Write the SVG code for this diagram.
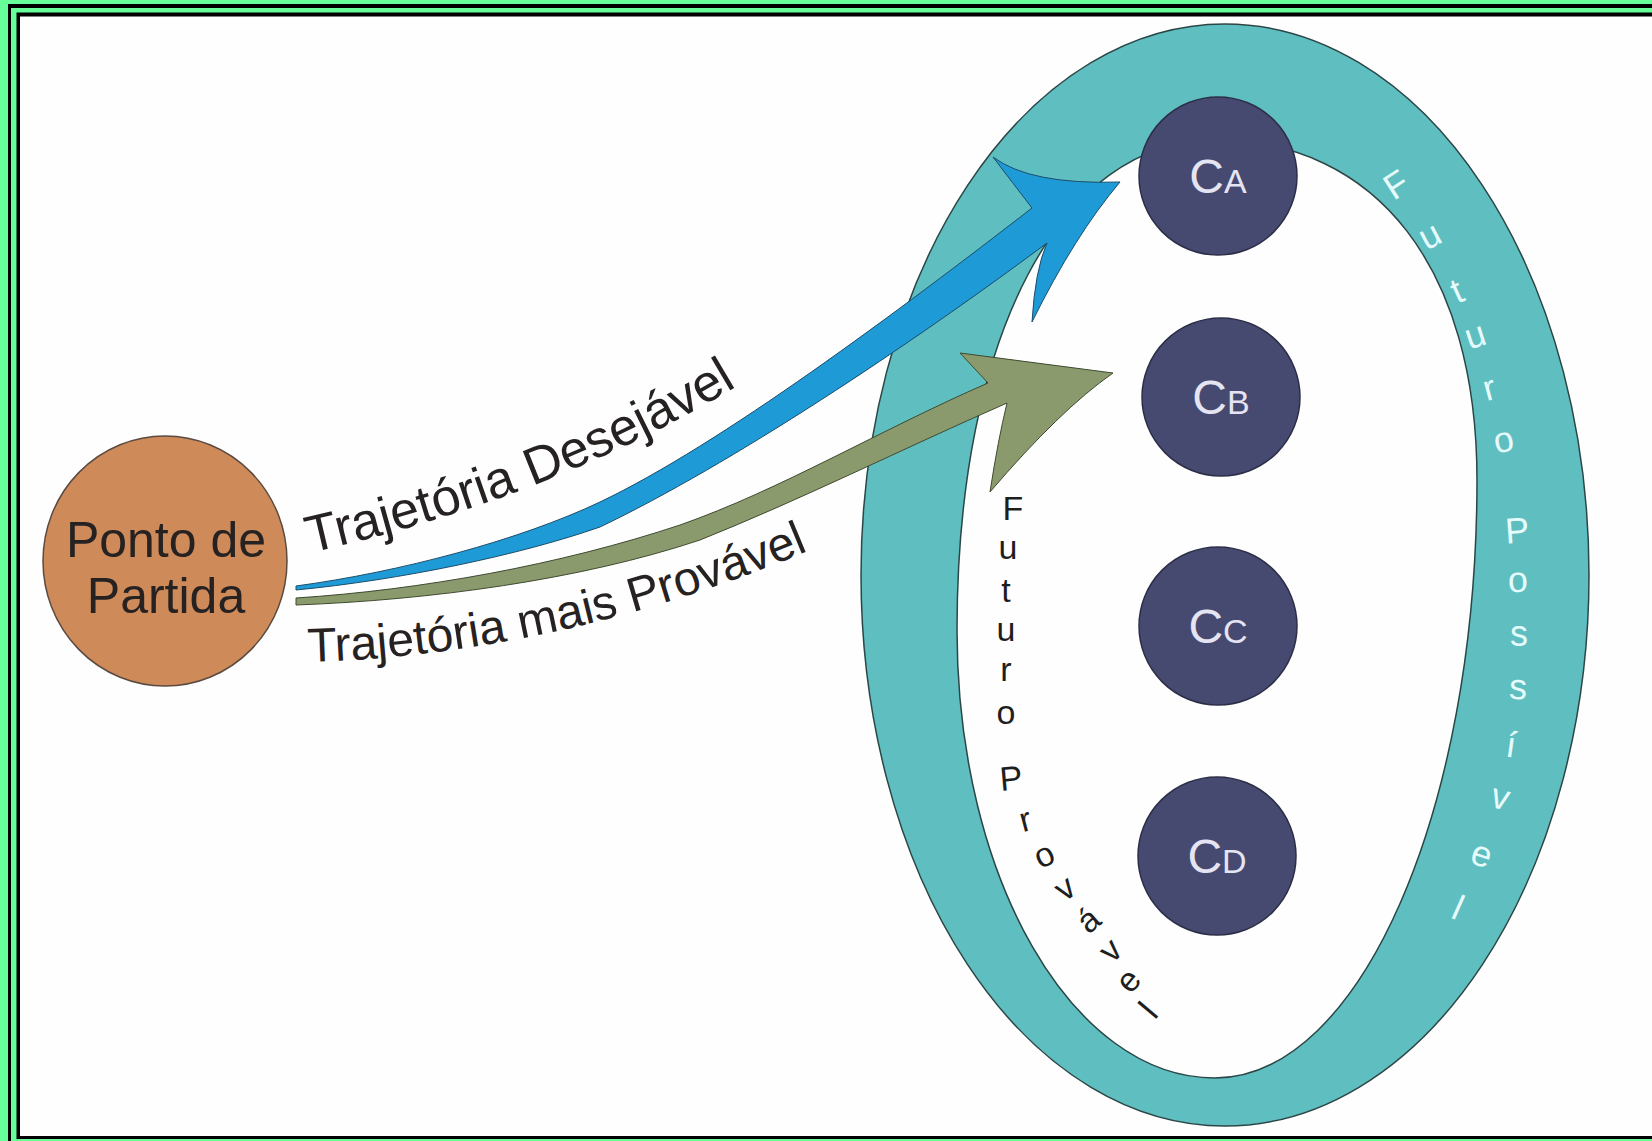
<svg xmlns="http://www.w3.org/2000/svg" width="1652" height="1141" viewBox="0 0 1652 1141">
<style>
.lbl{font-family:"Liberation Sans",Arial,sans-serif;fill:#262222}
.pos{font-family:"Liberation Sans",Arial,sans-serif;font-size:36px;fill:#e6fbfb;text-anchor:middle}
.prov{font-family:"Liberation Sans",Arial,sans-serif;font-size:34px;fill:#1e1e1e;text-anchor:middle}
.node{fill:#474a70;stroke:#2c2e48;stroke-width:1.5}
.nl{font-family:"Liberation Sans",Arial,sans-serif;fill:#e4e4f2;text-anchor:middle}
</style>
<defs>
<path id="p1" d="M 310,553 Q 565,495 760,372"/>
<path id="p2" d="M 308,662 Q 560,655 810,550"/>
</defs>
<!-- frame -->
<rect x="0" y="0" width="1652" height="1141" fill="#66ff99"/>
<rect x="8" y="4" width="1700" height="1200" fill="#000"/>
<rect x="11" y="8" width="1700" height="1200" fill="#66ff99"/>
<rect x="16.5" y="12.5" width="1700" height="1126.5" fill="#000"/>
<rect x="20" y="16.5" width="1700" height="1119.5" fill="#fefefe"/>

<g id="ring">
<path fill-rule="evenodd" fill="#5fbec0" stroke="#2b4646" stroke-width="1.5" d="M 861,575 A 364,551 0 1 0 1589,575 A 364,551 0 1 0 861,575 Z M 1215,140 C 1377,140 1477,269 1477,480 C 1477,810 1360,1078 1215,1078 C 1072,1078 957,877 957,630 C 957,336 1060,140 1215,140 Z"/>
</g>

<g id="connectors">
<path id="arrow-desejavel" fill="#1e9bd7" stroke="#1b4d6a" stroke-width="1" d="M 296,586 C 400,572 520,540 600,502 C 720,445 900,310 1032,208 Q 1012,182 993,157 Q 1030,185 1120,182 Q 1075,235 1032,322 Q 1035,270 1047,243 C 910,345 730,465 600,527 C 520,555 400,580 296,590 Z"/>
<path id="arrow-provavel" fill="#8b9a6c" stroke="#3e4a30" stroke-width="1" d="M 296,598 C 420,590 560,565 680,525 C 780,490 880,430 988,383 L 960,353 L 1113,373 Q 1060,410 990,492 Q 998,440 1007,403 C 900,450 800,500 700,540 C 580,580 430,600 296,605 Z"/>
</g>

<g id="label-desejavel">
<text class="lbl" font-size="52"><textPath href="#p1">Trajetória Desejável</textPath></text>
</g>
<g id="label-provavel">
<text class="lbl" font-size="48"><textPath href="#p2">Trajetória mais Provável</textPath></text>
</g>

<g id="node-partida">
<ellipse cx="165" cy="561" rx="122" ry="125" fill="#cf8a5a" stroke="#5a4a40" stroke-width="1.5"/>
<text class="lbl" font-size="50" x="166" y="557" text-anchor="middle" fill="#2b1d14">Ponto de</text>
<text class="lbl" font-size="50" x="166" y="613" text-anchor="middle" fill="#2b1d14">Partida</text>
</g>

<g id="node-ca">
<circle class="node" cx="1218" cy="176" r="79"/>
<text class="nl" x="1218" y="193"><tspan font-size="48">C</tspan><tspan font-size="34">A</tspan></text>
</g>
<g id="node-cb">
<circle class="node" cx="1221" cy="397" r="79"/>
<text class="nl" x="1221" y="414"><tspan font-size="48">C</tspan><tspan font-size="34">B</tspan></text>
</g>
<g id="node-cc">
<circle class="node" cx="1218" cy="626" r="79"/>
<text class="nl" x="1218" y="643"><tspan font-size="48">C</tspan><tspan font-size="34">C</tspan></text>
</g>
<g id="node-cd">
<circle class="node" cx="1217" cy="856" r="79"/>
<text class="nl" x="1217" y="873"><tspan font-size="48">C</tspan><tspan font-size="34">D</tspan></text>
</g>

<g id="label-futuro-provavel">
<text class="prov" transform="translate(1013,508)" y="12">F</text>
<text class="prov" transform="translate(1008,550)" y="9">u</text>
<text class="prov" transform="translate(1006,590)" y="12">t</text>
<text class="prov" transform="translate(1006,632)" y="9">u</text>
<text class="prov" transform="translate(1006,672)" y="9">r</text>
<text class="prov" transform="translate(1006,715)" y="9">o</text>
<text class="prov" transform="translate(1011,778) rotate(-5)" y="12">P</text>
<text class="prov" transform="translate(1026,822) rotate(-15)" y="9">r</text>
<text class="prov" transform="translate(1045,857) rotate(-25)" y="9">o</text>
<text class="prov" transform="translate(1066,890) rotate(-35)" y="9">v</text>
<text class="prov" transform="translate(1090,922) rotate(-40)" y="9">á</text>
<text class="prov" transform="translate(1112,952) rotate(-45)" y="9">v</text>
<text class="prov" transform="translate(1130,982) rotate(-50)" y="9">e</text>
<text class="prov" transform="translate(1148,1010) rotate(-50)" y="12">l</text>
</g>

<g id="label-futuro-possivel">
<text class="pos" transform="translate(1396,184) rotate(-33)" y="13">F</text>
<text class="pos" transform="translate(1431,238) rotate(-28)" y="9">u</text>
<text class="pos" transform="translate(1457,291) rotate(-24)" y="12">t</text>
<text class="pos" transform="translate(1476,338) rotate(-18)" y="9">u</text>
<text class="pos" transform="translate(1490,391) rotate(-15)" y="9">r</text>
<text class="pos" transform="translate(1504,443) rotate(-10)" y="9">o</text>
<text class="pos" transform="translate(1517,530) rotate(-4)" y="13">P</text>
<text class="pos" transform="translate(1518,583) rotate(-2)" y="9">o</text>
<text class="pos" transform="translate(1519,637)" y="9">s</text>
<text class="pos" transform="translate(1518,690) rotate(2)" y="9">s</text>
<text class="pos" transform="translate(1511,745) rotate(8)" y="12">í</text>
<text class="pos" transform="translate(1500,800) rotate(14)" y="9">v</text>
<text class="pos" transform="translate(1481,857) rotate(19)" y="9">e</text>
<text class="pos" transform="translate(1458,908) rotate(24)" y="12">l</text>
</g>
</svg>
